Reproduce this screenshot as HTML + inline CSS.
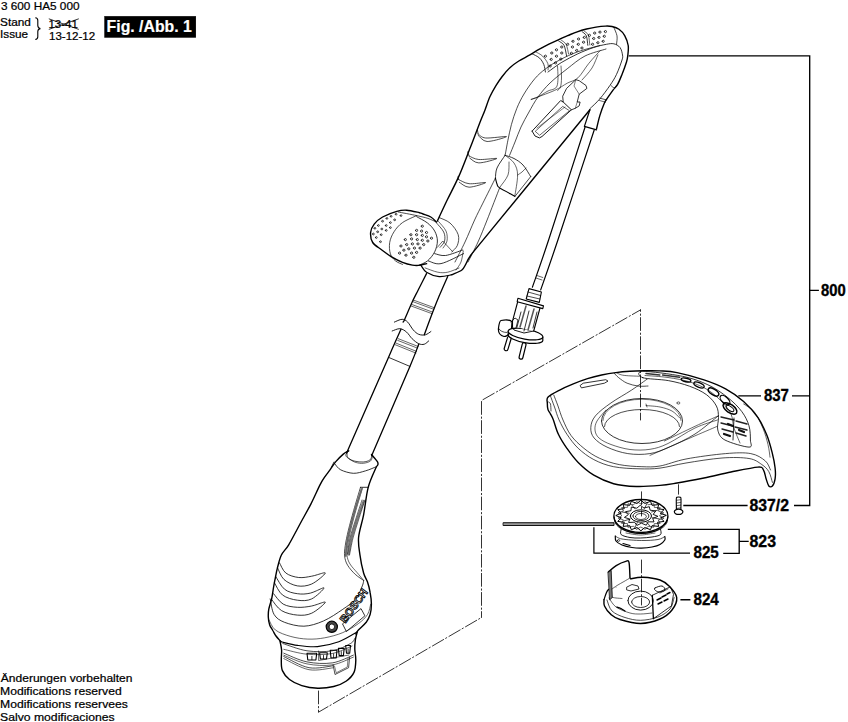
<!DOCTYPE html>
<html><head><meta charset="utf-8">
<style>
html,body{margin:0;padding:0;background:#fff;width:848px;height:722px;overflow:hidden}
svg{position:absolute;left:0;top:0;display:block}
text{font-family:"Liberation Sans",sans-serif}
.lb{font-weight:bold;font-size:16.2px;stroke:#000;stroke-width:0.35px}
.sm{stroke:#000;stroke-width:0.22px}
</style></head><body>
<svg width="848" height="722" viewBox="0 0 848 722">
<g id="txt" fill="#000" class="sm">
<text x="0.9" y="10" font-size="11" textLength="78.6" lengthAdjust="spacingAndGlyphs">3 600 HA5 000</text>
<text x="0" y="26.3" font-size="11" textLength="30.9" lengthAdjust="spacingAndGlyphs">Stand</text>
<text x="0" y="37.5" font-size="11" textLength="28.1" lengthAdjust="spacingAndGlyphs">Issue</text>
<text x="48.5" y="28" font-size="10.5" textLength="29.3" lengthAdjust="spacingAndGlyphs">13-41</text>
<text x="49" y="39.7" font-size="10.5" textLength="46.1" lengthAdjust="spacingAndGlyphs">13-12-12</text>
<rect x="104.4" y="16.2" width="91.5" height="21.4" fill="#000"/>
<text x="106.6" y="32.3" font-size="17" font-weight="bold" fill="#fff" stroke="#fff" stroke-width="0.2" textLength="85.2" lengthAdjust="spacingAndGlyphs">Fig. /Abb. 1</text>
<text x="0.8" y="682.3" font-size="11" textLength="131.7" lengthAdjust="spacingAndGlyphs">Änderungen vorbehalten</text>
<text x="0" y="695.2" font-size="11" textLength="121.7" lengthAdjust="spacingAndGlyphs">Modifications reserved</text>
<text x="0" y="708.2" font-size="11" textLength="127.9" lengthAdjust="spacingAndGlyphs">Modifications reservees</text>
<text x="0" y="720.8" font-size="11" textLength="114.6" lengthAdjust="spacingAndGlyphs">Salvo modificaciones</text>
<text class="lb" x="821" y="296" textLength="24.7" lengthAdjust="spacingAndGlyphs">800</text>
<text class="lb" x="764" y="401" textLength="24.9" lengthAdjust="spacingAndGlyphs">837</text>
<text class="lb" x="749.5" y="510.6" textLength="39.5" lengthAdjust="spacingAndGlyphs">837/2</text>
<text class="lb" x="749.5" y="547" textLength="26.5" lengthAdjust="spacingAndGlyphs">823</text>
<text class="lb" x="693.5" y="558.2" textLength="25.3" lengthAdjust="spacingAndGlyphs">825</text>
<text class="lb" x="693.5" y="604.8" textLength="25.3" lengthAdjust="spacingAndGlyphs">824</text>
</g>
<g id="lines" fill="none" stroke="#000" stroke-width="1.35">
<path d="M628.7 55.8H809.7V505.5H794M809.7 290.4H818.9M792 395.8H809.7M738.3 395.8H761M683.3 505.5H747.6M667.8 529.4H739.2V553.4H723.2M739.2 541.4H748.7M680.4 599.7H690.4" />
<path d="M593.9 527.2V553.2H690" stroke-width="1.2"/>
<path d="M48.8 18.8L78.8 29.4M48.8 29.4L78.8 18.8" stroke-width="0.8"/>
<path d="M35.3 17.8Q37.8 18 37.8 20.5V25.6Q37.8 28.2 40.4 28.6Q37.8 29 37.8 31.6V36.8Q37.8 39.3 35.3 39.5" stroke-width="1.1"/>
</g>
<g stroke="#000" stroke-linejoin="round" stroke-linecap="round">
<path d="M437.4 221.0C439.0 217.5 443.6 207.4 447.2 200.0C450.8 192.6 454.9 185.2 458.8 176.4C462.7 167.6 466.8 156.4 470.4 147.3C473.9 138.2 477.7 128.3 480.1 122.1C482.5 115.9 483.4 114.3 485.0 110.0C486.6 105.7 488.1 100.6 490.0 96.5C491.9 92.4 494.1 88.7 496.1 85.4C498.1 82.1 499.9 79.5 502.2 76.5C504.5 73.5 507.1 70.3 509.9 67.7C512.7 65.1 515.5 63.1 518.8 61.0C522.1 58.9 526.5 56.9 529.9 54.9C533.3 52.9 536.2 51.0 539.4 49.2C542.6 47.4 545.8 45.7 548.9 44.1C552.0 42.5 555.2 41.2 558.3 39.8C561.4 38.4 564.6 36.9 567.7 35.6C570.9 34.3 574.1 32.9 577.2 31.8C580.4 30.7 583.5 29.8 586.6 29.0C589.7 28.2 592.9 27.6 596.0 27.1C599.1 26.6 602.8 26.2 605.5 26.1C608.2 26.0 609.8 26.0 612.0 26.5C614.2 27.0 616.9 27.7 619.0 29.2C621.1 30.7 623.2 32.9 624.7 35.6C626.2 38.3 627.7 42.2 628.2 45.5C628.7 48.8 628.1 52.6 627.8 55.4C627.5 58.1 627.5 58.8 626.5 62.0C625.5 65.2 623.5 70.7 622.0 74.4C620.5 78.1 619.1 81.8 617.6 84.4C616.1 87.0 614.9 87.7 613.2 89.9C611.6 92.1 609.2 95.5 607.7 97.7C606.2 99.9 605.6 100.2 604.3 103.2C603.0 106.2 601.2 111.2 599.9 115.4C598.6 119.7 597.1 126.5 596.6 128.7" stroke-width="1.4" fill="none" />
<path d="M589.9 109.8L584.4 126.4L596.6 129.8" stroke-width="1.2" fill="none" />
<path d="M589.9 109.8C572.3 131.3 504.2 214.2 484.2 238.6C464.2 263.1 473.1 252.2 470.0 256.5C466.9 260.8 467.1 262.1 465.7 264.3C464.3 266.6 464.2 268.3 461.9 270.0C459.6 271.7 453.6 273.9 452.0 274.7" stroke-width="1.4" fill="none" />
<path d="M617.6 84.4C617.0 85.0 615.4 87.5 614.3 87.7C613.2 87.9 611.5 85.9 611.0 85.5" stroke-width="0.7" fill="none" />
<path d="M599.9 98.2L606.5 99.9" stroke-width="0.7" fill="none" />
<path d="M599.5 100.5L605.5 102.2" stroke-width="0.6" fill="none" />
<path d="M548.0 72.0C550.3 70.4 556.8 65.3 561.8 62.3C566.8 59.3 572.5 56.3 577.8 53.8C583.1 51.3 588.9 49.1 593.7 47.5C598.5 45.9 603.0 44.9 606.4 44.3C609.8 43.7 611.5 43.3 613.8 43.8C616.1 44.3 618.5 45.6 620.0 47.5C621.5 49.4 622.2 52.9 622.5 55.0C622.8 57.1 623.0 56.8 622.0 60.0C621.0 63.2 618.5 70.2 616.5 74.4C614.5 78.7 612.7 81.4 609.9 85.5C607.1 89.6 603.2 94.9 599.9 98.8C596.6 102.7 591.6 107.0 589.9 108.7" stroke-width="0.8" fill="none" />
<path d="M532.1 53.8C533.4 54.5 537.7 56.3 539.6 58.1C541.5 59.9 542.8 62.2 543.8 64.5C544.8 66.8 545.1 70.8 545.4 72.0" stroke-width="0.8" fill="none" />
<path d="M535.5 51.8C536.7 52.5 540.6 54.1 542.6 56.1C544.6 58.1 546.9 61.2 547.8 63.5C548.7 65.8 548.0 68.9 548.0 70.0" stroke-width="0.6" fill="none" />
<path d="M558.7 41.1C559.6 41.8 562.7 42.8 564.0 45.3C565.3 47.8 566.2 54.2 566.6 56.0" stroke-width="0.8" fill="none" />
<path d="M561.0 40.0C561.8 40.7 564.7 42.0 566.0 44.3C567.3 46.6 568.2 52.4 568.6 54.0" stroke-width="0.6" fill="none" />
<path d="M582.0 31.6C582.7 32.3 585.3 33.5 586.3 35.8C587.3 38.1 587.5 43.7 587.8 45.3" stroke-width="0.8" fill="none" />
<path d="M584.0 31.0C584.7 31.7 587.3 32.7 588.3 35.0C589.3 37.3 589.5 43.3 589.8 45.0" stroke-width="0.6" fill="none" />
<path d="M613.8 27.3C614.3 28.7 616.5 33.0 617.0 35.8C617.5 38.6 616.6 42.9 616.5 44.3" stroke-width="0.7" fill="none" />
<path d="M600.0 45.4C596.3 46.5 584.7 49.3 578.0 51.7C571.3 54.1 565.4 56.9 560.0 59.8C554.6 62.6 549.8 65.6 545.6 68.8C541.4 72.0 538.4 74.5 534.8 78.7C531.2 82.9 527.0 89.0 524.0 94.0C521.0 99.0 518.9 103.3 516.8 108.4C514.7 113.5 512.9 119.2 511.4 124.6C509.9 130.0 508.9 135.7 507.8 140.8C506.8 145.9 505.6 152.9 505.1 155.3" stroke-width="0.7" fill="none" />
<path d="M606.0 49.0C602.5 50.2 591.5 52.7 585.0 56.0C578.5 59.3 573.0 64.3 567.2 68.8C561.4 73.3 554.9 78.3 550.0 83.0C545.1 87.7 541.5 92.2 538.0 97.0C534.5 101.8 531.8 107.0 529.0 112.0C526.2 117.0 523.3 122.0 521.0 127.0C518.7 132.0 516.9 137.3 515.0 142.0C513.1 146.7 510.5 153.1 509.6 155.3" stroke-width="0.7" fill="none" />
<path d="M495.4 178.2C493.3 182.3 486.4 196.1 482.9 203.1C479.4 210.1 477.6 213.5 474.6 220.0C471.6 226.5 468.3 235.0 465.0 242.0C461.7 249.0 456.7 258.7 455.0 262.0" stroke-width="0.7" fill="none" />
<path d="M499.6 187.9C497.5 193.2 490.7 211.0 487.1 220.0C483.5 229.0 481.2 235.0 478.0 242.0C474.8 249.0 469.7 258.7 468.0 262.0" stroke-width="0.7" fill="none" />
<path d="M531.2 99.4C535.1 97.9 548.6 93.1 554.6 90.4C560.6 87.7 563.3 85.3 567.2 83.2C571.1 81.1 574.4 81.1 578.0 77.8C581.6 74.5 585.1 67.9 588.8 63.4C592.5 58.9 598.1 52.9 600.0 50.8" stroke-width="0.6" fill="none" />
<path d="M597.9 54.9C596.9 57.1 594.6 63.8 592.0 68.0C589.4 72.2 583.7 78.0 582.0 80.0" stroke-width="0.6" fill="none" />
<path d="M557.5 66.0C557.6 68.0 558.1 74.7 558.0 78.0C557.9 81.3 557.7 84.2 557.0 86.0C556.3 87.8 555.5 88.2 554.0 89.0C552.5 89.8 550.7 89.7 548.0 91.0C545.3 92.3 540.8 95.6 538.0 97.0C535.2 98.4 532.3 99.0 531.2 99.4" stroke-width="0.6" fill="none" />
<path d="M561.0 66.0C561.1 68.0 561.6 74.5 561.5 78.0C561.4 81.5 561.2 84.9 560.5 87.0C559.8 89.1 558.0 89.9 557.5 90.5" stroke-width="0.6" fill="none" />
<path d="M532.1 131.1L560.7 100.5L563.2 102.0L571.4 109.8L542.0 136.5L539.4 137.9L535.0 136.0L532.1 131.1" stroke-width="0.9" fill="none" />
<path d="M535.5 131.1L562.7 106.4L569.5 110.7L539.9 135.0Z" stroke-width="0.6" fill="none" />
<path d="M537.0 128.0L565.0 107.0" stroke-width="0.5" fill="none" />
<path d="M563.2 102.0L562.7 96.2L566.6 88.4L575.8 79.7L579.2 80.7L586.0 85.5L586.9 88.4L579.2 94.2L577.2 102.0L580.1 102.0L579.2 105.9L575.3 108.3L571.4 109.8" stroke-width="0.8" fill="none" />
<path d="M577.2 102.0L575.3 108.3" stroke-width="0.5" fill="none" />
<path d="M575.8 79.7L574.0 86.0L579.2 94.2" stroke-width="0.5" fill="none" />
<path d="M478.1 133.9C479.4 134.6 481.0 137.6 485.7 138.0C490.4 138.4 506.3 136.0 506.5 136.6C506.7 137.2 491.8 141.7 487.1 141.5C482.4 141.3 479.6 136.2 478.1 135.2" stroke-width="0.7" fill="none" />
<path d="M477.4 129.7L478.1 133.9" stroke-width="0.7" fill="none" />
<path d="M469.1 156.0C470.7 156.6 474.2 159.1 478.8 159.5C483.4 159.9 496.8 157.9 496.8 158.5C496.8 159.1 483.3 163.0 478.8 162.9C474.3 162.8 471.3 158.9 469.8 158.1" stroke-width="0.7" fill="none" />
<path d="M467.7 151.9L469.1 156.0" stroke-width="0.7" fill="none" />
<path d="M458.7 179.6C460.4 180.3 464.6 183.2 469.1 183.7C473.6 184.2 485.7 182.0 485.7 182.6C485.7 183.2 473.5 187.2 469.1 187.2C464.7 187.1 461.0 183.1 459.4 182.3" stroke-width="0.7" fill="none" />
<path d="M458.0 176.8L458.7 179.6" stroke-width="0.7" fill="none" />
<path d="M505.1 155.3C506.6 155.8 511.0 156.9 514.0 158.5C517.0 160.1 520.2 162.0 523.0 165.0C525.8 168.0 529.4 174.7 530.7 176.6" stroke-width="0.8" fill="none" />
<path d="M495.4 178.2C495.7 179.2 496.3 182.4 497.0 184.0C497.7 185.6 496.6 185.9 499.6 187.9C502.6 189.9 512.3 194.8 514.8 196.2" stroke-width="1.1" fill="none" />
<path d="M505.1 155.3C503.8 157.4 498.6 164.2 497.0 168.0C495.4 171.8 495.7 176.5 495.4 178.2" stroke-width="0.8" fill="none" />
<path d="M505.1 155.3C506.6 156.6 511.9 159.7 514.0 163.0C516.1 166.3 517.5 169.5 517.6 175.0C517.7 180.5 515.3 192.7 514.8 196.2" stroke-width="0.6" fill="none" />
<path d="M509.0 162.0C508.8 164.2 509.5 170.8 508.0 175.0C506.5 179.2 501.3 185.0 500.0 187.0" stroke-width="0.6" fill="none" />
<path d="M517.6 175.0C518.3 174.5 520.6 173.2 522.0 172.0C523.4 170.8 525.3 168.7 526.0 168.0" stroke-width="0.6" fill="none" />
<path d="M530.7 176.6L514.9 196.5" stroke-width="0.7" fill="none" />
<path d="M545.4 56.2m-1.1 0a1.1 1.1 0 1 0 2.2 0a1.1 1.1 0 1 0 -2.2 0" stroke-width="0.75" fill="none" />
<path d="M551.2 59.4m-1.1 0a1.1 1.1 0 1 0 2.2 0a1.1 1.1 0 1 0 -2.2 0" stroke-width="0.75" fill="none" />
<path d="M556.5 56.2m-1.1 0a1.1 1.1 0 1 0 2.2 0a1.1 1.1 0 1 0 -2.2 0" stroke-width="0.75" fill="none" />
<path d="M550.2 66.0m-1.1 0a1.1 1.1 0 1 0 2.2 0a1.1 1.1 0 1 0 -2.2 0" stroke-width="0.75" fill="none" />
<path d="M555.5 62.9m-1.1 0a1.1 1.1 0 1 0 2.2 0a1.1 1.1 0 1 0 -2.2 0" stroke-width="0.75" fill="none" />
<path d="M560.8 59.1m-1.1 0a1.1 1.1 0 1 0 2.2 0a1.1 1.1 0 1 0 -2.2 0" stroke-width="0.75" fill="none" />
<path d="M561.8 53.0m-1.1 0a1.1 1.1 0 1 0 2.2 0a1.1 1.1 0 1 0 -2.2 0" stroke-width="0.75" fill="none" />
<path d="M556.5 49.8m-1.1 0a1.1 1.1 0 1 0 2.2 0a1.1 1.1 0 1 0 -2.2 0" stroke-width="0.75" fill="none" />
<path d="M551.8 53.0m-1.1 0a1.1 1.1 0 1 0 2.2 0a1.1 1.1 0 1 0 -2.2 0" stroke-width="0.75" fill="none" />
<path d="M561.8 47.0m-1.1 0a1.1 1.1 0 1 0 2.2 0a1.1 1.1 0 1 0 -2.2 0" stroke-width="0.75" fill="none" />
<path d="M571.4 53.3m-1.1 0a1.1 1.1 0 1 0 2.2 0a1.1 1.1 0 1 0 -2.2 0" stroke-width="0.75" fill="none" />
<path d="M576.7 50.4m-1.1 0a1.1 1.1 0 1 0 2.2 0a1.1 1.1 0 1 0 -2.2 0" stroke-width="0.75" fill="none" />
<path d="M582.0 48.0m-1.1 0a1.1 1.1 0 1 0 2.2 0a1.1 1.1 0 1 0 -2.2 0" stroke-width="0.75" fill="none" />
<path d="M572.5 47.0m-1.1 0a1.1 1.1 0 1 0 2.2 0a1.1 1.1 0 1 0 -2.2 0" stroke-width="0.75" fill="none" />
<path d="M578.3 44.3m-1.1 0a1.1 1.1 0 1 0 2.2 0a1.1 1.1 0 1 0 -2.2 0" stroke-width="0.75" fill="none" />
<path d="M583.6 42.2m-1.1 0a1.1 1.1 0 1 0 2.2 0a1.1 1.1 0 1 0 -2.2 0" stroke-width="0.75" fill="none" />
<path d="M573.0 41.3m-1.1 0a1.1 1.1 0 1 0 2.2 0a1.1 1.1 0 1 0 -2.2 0" stroke-width="0.75" fill="none" />
<path d="M578.6 39.0m-1.1 0a1.1 1.1 0 1 0 2.2 0a1.1 1.1 0 1 0 -2.2 0" stroke-width="0.75" fill="none" />
<path d="M584.3 37.4m-1.1 0a1.1 1.1 0 1 0 2.2 0a1.1 1.1 0 1 0 -2.2 0" stroke-width="0.75" fill="none" />
<path d="M567.7 44.3m-1.1 0a1.1 1.1 0 1 0 2.2 0a1.1 1.1 0 1 0 -2.2 0" stroke-width="0.75" fill="none" />
<path d="M592.6 44.3m-1.1 0a1.1 1.1 0 1 0 2.2 0a1.1 1.1 0 1 0 -2.2 0" stroke-width="0.75" fill="none" />
<path d="M597.9 42.7m-1.1 0a1.1 1.1 0 1 0 2.2 0a1.1 1.1 0 1 0 -2.2 0" stroke-width="0.75" fill="none" />
<path d="M603.2 41.3m-1.1 0a1.1 1.1 0 1 0 2.2 0a1.1 1.1 0 1 0 -2.2 0" stroke-width="0.75" fill="none" />
<path d="M593.7 38.5m-1.1 0a1.1 1.1 0 1 0 2.2 0a1.1 1.1 0 1 0 -2.2 0" stroke-width="0.75" fill="none" />
<path d="M599.0 37.4m-1.1 0a1.1 1.1 0 1 0 2.2 0a1.1 1.1 0 1 0 -2.2 0" stroke-width="0.75" fill="none" />
<path d="M604.3 36.3m-1.1 0a1.1 1.1 0 1 0 2.2 0a1.1 1.1 0 1 0 -2.2 0" stroke-width="0.75" fill="none" />
<path d="M594.7 33.1m-1.1 0a1.1 1.1 0 1 0 2.2 0a1.1 1.1 0 1 0 -2.2 0" stroke-width="0.75" fill="none" />
<path d="M600.0 32.1m-1.1 0a1.1 1.1 0 1 0 2.2 0a1.1 1.1 0 1 0 -2.2 0" stroke-width="0.75" fill="none" />
<path d="M605.4 31.6m-1.1 0a1.1 1.1 0 1 0 2.2 0a1.1 1.1 0 1 0 -2.2 0" stroke-width="0.75" fill="none" />
<path d="M589.4 35.3m-1.1 0a1.1 1.1 0 1 0 2.2 0a1.1 1.1 0 1 0 -2.2 0" stroke-width="0.75" fill="none" />
<path d="M370.6 232.5C372 226 378 219 390 213.5C400 210 412 210 423 214C432 218 440 226 444 236C446 245 442 254 435 259C428 264 418 266 410 265C398 263 385 256 376 248C372 244 370 238 370.6 232.5Z" stroke-width="0" fill="#fff" stroke="none"/>
<path d="M439.2 217.6C441.0 218.5 446.8 220.2 450.0 223.0C453.2 225.8 457.0 230.9 458.2 234.7C459.4 238.4 458.4 242.7 457.3 245.5C456.2 248.3 452.7 250.8 451.8 251.8" stroke-width="0.7" fill="none" />
<path d="M436.5 223.0C437.7 224.5 442.3 229.0 443.7 232.0C445.1 235.0 445.2 238.4 444.6 241.0C444.0 243.6 440.9 246.2 440.1 247.3" stroke-width="0.7" fill="none" />
<path d="M438.5 221.5C439.8 223.1 444.6 227.8 446.0 231.0C447.4 234.2 447.5 238.2 447.0 241.0C446.5 243.8 443.7 246.8 443.0 248.0" stroke-width="0.6" fill="none" />
<path d="M437.4 247.3L442.8 241.0L452.7 251.8" stroke-width="0.6" fill="none" />
<path d="M436.5 222.1C435.6 221.2 433.1 218.3 430.8 217.0C428.6 215.7 424.9 214.7 423.0 214.0C421.1 213.3 422.1 213.3 419.4 212.7C416.7 212.1 410.5 210.4 406.7 210.2C402.9 210.0 400.8 210.2 396.8 211.3C392.8 212.4 386.4 214.9 382.6 217.0C378.8 219.1 376.2 221.5 374.2 224.1C372.2 226.7 370.9 229.4 370.6 232.5C370.4 235.6 370.9 239.7 372.7 242.5C374.5 245.3 378.1 247.2 381.2 249.5C384.3 251.8 387.6 254.5 391.1 256.6C394.7 258.7 398.9 260.9 402.5 262.3C406.1 263.7 409.7 264.6 412.4 265.1C415.1 265.6 416.1 265.6 418.5 265.4C420.9 265.1 425.2 263.9 426.6 263.6" stroke-width="1.4" fill="none" />
<path d="M416.7 216.7C418.5 217.8 424.5 220.6 427.5 223.0C430.5 225.4 433.1 228.1 434.7 231.1C436.3 234.1 437.4 237.6 437.4 241.0C437.4 244.4 436.3 248.5 434.7 251.8C433.1 255.1 430.2 258.6 427.5 260.9C424.8 263.2 420.0 264.6 418.5 265.4" stroke-width="0.8" fill="none" />
<path d="M398.2 212.0C401.3 212.6 411.7 214.5 416.6 215.6C421.6 216.7 424.6 217.3 427.9 218.4C431.2 219.5 435.1 221.5 436.5 222.1" stroke-width="0.7" fill="none" />
<path d="M416.6 215.6C414.2 216.8 406.3 219.9 402.5 222.6C398.7 225.3 396.1 228.5 394.0 231.8C391.9 235.1 390.3 238.8 389.7 242.5C389.1 246.2 389.4 250.8 390.4 253.8C391.3 256.9 393.4 259.0 395.4 260.8C397.4 262.6 401.3 263.8 402.5 264.4" stroke-width="0.7" fill="none" />
<path d="M374.9 228.3m-0.9 0a0.9 0.9 0 1 0 1.8 0a0.9 0.9 0 1 0 -1.8 0" stroke-width="0.7" fill="none" />
<path d="M378.4 225.5m-0.9 0a0.9 0.9 0 1 0 1.8 0a0.9 0.9 0 1 0 -1.8 0" stroke-width="0.7" fill="none" />
<path d="M382.6 221.2m-0.9 0a0.9 0.9 0 1 0 1.8 0a0.9 0.9 0 1 0 -1.8 0" stroke-width="0.7" fill="none" />
<path d="M386.9 218.4m-0.9 0a0.9 0.9 0 1 0 1.8 0a0.9 0.9 0 1 0 -1.8 0" stroke-width="0.7" fill="none" />
<path d="M391.1 216.3m-0.9 0a0.9 0.9 0 1 0 1.8 0a0.9 0.9 0 1 0 -1.8 0" stroke-width="0.7" fill="none" />
<path d="M396.1 214.2m-0.9 0a0.9 0.9 0 1 0 1.8 0a0.9 0.9 0 1 0 -1.8 0" stroke-width="0.7" fill="none" />
<path d="M401.0 215.6m-0.9 0a0.9 0.9 0 1 0 1.8 0a0.9 0.9 0 1 0 -1.8 0" stroke-width="0.7" fill="none" />
<path d="M373.4 234.0m-0.9 0a0.9 0.9 0 1 0 1.8 0a0.9 0.9 0 1 0 -1.8 0" stroke-width="0.7" fill="none" />
<path d="M377.7 231.8m-0.9 0a0.9 0.9 0 1 0 1.8 0a0.9 0.9 0 1 0 -1.8 0" stroke-width="0.7" fill="none" />
<path d="M381.9 229.0m-0.9 0a0.9 0.9 0 1 0 1.8 0a0.9 0.9 0 1 0 -1.8 0" stroke-width="0.7" fill="none" />
<path d="M386.2 225.5m-0.9 0a0.9 0.9 0 1 0 1.8 0a0.9 0.9 0 1 0 -1.8 0" stroke-width="0.7" fill="none" />
<path d="M390.4 222.6m-0.9 0a0.9 0.9 0 1 0 1.8 0a0.9 0.9 0 1 0 -1.8 0" stroke-width="0.7" fill="none" />
<path d="M394.7 219.8m-0.9 0a0.9 0.9 0 1 0 1.8 0a0.9 0.9 0 1 0 -1.8 0" stroke-width="0.7" fill="none" />
<path d="M376.3 237.5m-0.9 0a0.9 0.9 0 1 0 1.8 0a0.9 0.9 0 1 0 -1.8 0" stroke-width="0.7" fill="none" />
<path d="M381.2 234.7m-0.9 0a0.9 0.9 0 1 0 1.8 0a0.9 0.9 0 1 0 -1.8 0" stroke-width="0.7" fill="none" />
<path d="M386.2 230.4m-0.9 0a0.9 0.9 0 1 0 1.8 0a0.9 0.9 0 1 0 -1.8 0" stroke-width="0.7" fill="none" />
<path d="M390.4 227.6m-0.9 0a0.9 0.9 0 1 0 1.8 0a0.9 0.9 0 1 0 -1.8 0" stroke-width="0.7" fill="none" />
<path d="M380.5 241.7m-0.9 0a0.9 0.9 0 1 0 1.8 0a0.9 0.9 0 1 0 -1.8 0" stroke-width="0.7" fill="none" />
<path d="M422.3 226.2m-1.1 0a1.1 1.1 0 1 0 2.2 0a1.1 1.1 0 1 0 -2.2 0" stroke-width="0.75" fill="none" />
<path d="M416.6 230.4m-1.1 0a1.1 1.1 0 1 0 2.2 0a1.1 1.1 0 1 0 -2.2 0" stroke-width="0.75" fill="none" />
<path d="M421.6 231.1m-1.1 0a1.1 1.1 0 1 0 2.2 0a1.1 1.1 0 1 0 -2.2 0" stroke-width="0.75" fill="none" />
<path d="M426.5 232.5m-1.1 0a1.1 1.1 0 1 0 2.2 0a1.1 1.1 0 1 0 -2.2 0" stroke-width="0.75" fill="none" />
<path d="M410.9 234.7m-1.1 0a1.1 1.1 0 1 0 2.2 0a1.1 1.1 0 1 0 -2.2 0" stroke-width="0.75" fill="none" />
<path d="M416.6 234.7m-1.1 0a1.1 1.1 0 1 0 2.2 0a1.1 1.1 0 1 0 -2.2 0" stroke-width="0.75" fill="none" />
<path d="M422.3 235.4m-1.1 0a1.1 1.1 0 1 0 2.2 0a1.1 1.1 0 1 0 -2.2 0" stroke-width="0.75" fill="none" />
<path d="M426.5 236.8m-1.1 0a1.1 1.1 0 1 0 2.2 0a1.1 1.1 0 1 0 -2.2 0" stroke-width="0.75" fill="none" />
<path d="M431.5 238.2m-1.1 0a1.1 1.1 0 1 0 2.2 0a1.1 1.1 0 1 0 -2.2 0" stroke-width="0.75" fill="none" />
<path d="M405.3 239.6m-1.1 0a1.1 1.1 0 1 0 2.2 0a1.1 1.1 0 1 0 -2.2 0" stroke-width="0.75" fill="none" />
<path d="M411.6 238.9m-1.1 0a1.1 1.1 0 1 0 2.2 0a1.1 1.1 0 1 0 -2.2 0" stroke-width="0.75" fill="none" />
<path d="M417.3 239.6m-1.1 0a1.1 1.1 0 1 0 2.2 0a1.1 1.1 0 1 0 -2.2 0" stroke-width="0.75" fill="none" />
<path d="M422.3 240.3m-1.1 0a1.1 1.1 0 1 0 2.2 0a1.1 1.1 0 1 0 -2.2 0" stroke-width="0.75" fill="none" />
<path d="M427.9 241.0m-1.1 0a1.1 1.1 0 1 0 2.2 0a1.1 1.1 0 1 0 -2.2 0" stroke-width="0.75" fill="none" />
<path d="M401.0 246.0m-1.1 0a1.1 1.1 0 1 0 2.2 0a1.1 1.1 0 1 0 -2.2 0" stroke-width="0.75" fill="none" />
<path d="M406.7 244.6m-1.1 0a1.1 1.1 0 1 0 2.2 0a1.1 1.1 0 1 0 -2.2 0" stroke-width="0.75" fill="none" />
<path d="M412.4 243.9m-1.1 0a1.1 1.1 0 1 0 2.2 0a1.1 1.1 0 1 0 -2.2 0" stroke-width="0.75" fill="none" />
<path d="M418.0 243.9m-1.1 0a1.1 1.1 0 1 0 2.2 0a1.1 1.1 0 1 0 -2.2 0" stroke-width="0.75" fill="none" />
<path d="M423.7 244.6m-1.1 0a1.1 1.1 0 1 0 2.2 0a1.1 1.1 0 1 0 -2.2 0" stroke-width="0.75" fill="none" />
<path d="M403.9 250.2m-1.1 0a1.1 1.1 0 1 0 2.2 0a1.1 1.1 0 1 0 -2.2 0" stroke-width="0.75" fill="none" />
<path d="M408.8 248.8m-1.1 0a1.1 1.1 0 1 0 2.2 0a1.1 1.1 0 1 0 -2.2 0" stroke-width="0.75" fill="none" />
<path d="M414.5 248.1m-1.1 0a1.1 1.1 0 1 0 2.2 0a1.1 1.1 0 1 0 -2.2 0" stroke-width="0.75" fill="none" />
<path d="M420.1 248.1m-1.1 0a1.1 1.1 0 1 0 2.2 0a1.1 1.1 0 1 0 -2.2 0" stroke-width="0.75" fill="none" />
<path d="M399.6 253.1m-1.1 0a1.1 1.1 0 1 0 2.2 0a1.1 1.1 0 1 0 -2.2 0" stroke-width="0.75" fill="none" />
<path d="M406.0 255.2m-1.1 0a1.1 1.1 0 1 0 2.2 0a1.1 1.1 0 1 0 -2.2 0" stroke-width="0.75" fill="none" />
<path d="M411.6 253.1m-1.1 0a1.1 1.1 0 1 0 2.2 0a1.1 1.1 0 1 0 -2.2 0" stroke-width="0.75" fill="none" />
<path d="M416.6 252.4m-1.1 0a1.1 1.1 0 1 0 2.2 0a1.1 1.1 0 1 0 -2.2 0" stroke-width="0.75" fill="none" />
<path d="M413.8 257.3m-1.1 0a1.1 1.1 0 1 0 2.2 0a1.1 1.1 0 1 0 -2.2 0" stroke-width="0.75" fill="none" />
<path d="M434.7 253.6C436.5 253.9 440.8 256.1 445.5 255.5C450.2 254.9 459.8 250.9 462.7 250.0" stroke-width="0.8" fill="none" />
<path d="M428.4 260.9C430.5 261.3 435.1 264.8 441.0 263.6C446.9 262.4 459.8 255.3 463.6 253.6" stroke-width="0.8" fill="none" />
<path d="M420.8 265.1C421.8 266.3 423.4 270.3 426.5 272.2C429.6 274.1 434.9 276.2 439.2 276.6C443.4 277.0 449.9 275.0 452.0 274.7" stroke-width="1.2" fill="none" />
<path d="M425.1 267.9C427.2 268.6 434.0 271.5 437.8 272.2C441.6 272.9 444.2 272.9 447.7 272.2C451.2 271.5 457.1 268.7 459.0 268.0" stroke-width="0.6" fill="none" />
<path d="M463.3 250.9C462.9 252.8 462.2 258.8 461.0 262.0C459.8 265.2 456.8 268.7 456.0 270.0" stroke-width="0.6" fill="none" />
<path d="M426.5 273.6C425.1 276.3 420.6 285.2 418.2 290.0C415.8 294.8 414.4 297.2 412.1 302.2C409.8 307.2 405.9 316.6 404.4 319.9C402.9 323.2 403.2 321.6 403.0 322.0" stroke-width="1.3" fill="none" />
<path d="M447.7 276.4C446.4 279.4 442.1 289.1 439.8 294.4C437.6 299.7 436.8 301.6 434.2 308.3C431.6 315.0 425.9 330.4 424.3 334.8" stroke-width="1.3" fill="none" />
<path d="M401.0 329.3C399.0 333.8 398.0 335.8 388.9 356.4C379.8 377.0 353.7 436.8 346.6 452.9" stroke-width="1.3" fill="none" />
<path d="M418.7 344.2C417.2 347.9 417.8 347.8 409.9 366.4C402.0 385.0 378.0 440.8 371.6 455.7" stroke-width="1.3" fill="none" />
<path d="M394.4 322.1C395.7 321.6 399.9 319.3 402.1 319.3C404.3 319.3 405.9 320.3 407.7 322.1C409.5 323.9 411.4 327.9 413.2 329.9C415.0 331.9 416.7 333.5 418.7 334.3C420.7 335.1 423.4 335.3 425.4 334.8C427.4 334.3 430.0 332.1 430.9 331.5" stroke-width="0.9" fill="none" />
<path d="M392.2 331.0C393.5 330.6 397.5 328.5 399.9 328.7C402.3 328.9 404.6 330.4 406.6 332.1C408.6 333.8 410.1 336.8 412.1 338.7C414.1 340.6 416.7 342.8 418.7 343.7C420.7 344.6 422.6 344.7 424.3 344.2C426.0 343.7 428.0 341.4 428.7 340.9" stroke-width="0.9" fill="none" />
<path d="M413.2 300.0L434.2 307.7" stroke-width="0.6" fill="none" />
<path d="M412.7 301.6L433.7 309.3" stroke-width="0.6" fill="none" />
<path d="M411.6 304.4L432.6 312.1" stroke-width="0.6" fill="none" />
<path d="M411.1 306.0L432.1 313.7" stroke-width="0.6" fill="none" />
<path d="M398.3 338.7L418.2 346.5" stroke-width="0.6" fill="none" />
<path d="M397.7 340.4L417.6 348.2" stroke-width="0.6" fill="none" />
<path d="M396.0 343.1L416.5 351.4" stroke-width="0.6" fill="none" />
<path d="M395.4 344.8L415.9 353.1" stroke-width="0.6" fill="none" />
<path d="M388.9 357.5L409.9 366.4" stroke-width="0.8" fill="none" />
<path d="M348.7 450.8C347.8 451.4 345.4 452.3 343.3 454.1C341.2 455.9 338.0 459.0 335.8 461.6C333.6 464.2 331.8 467.4 330.0 469.9C328.2 472.4 326.7 474.1 325.0 476.6C323.3 479.1 322.3 480.4 320.0 484.9C317.7 489.4 314.4 497.1 311.1 503.6C307.8 510.1 303.7 517.1 300.0 524.0C296.3 530.9 291.8 539.6 288.7 544.8C285.6 550.0 283.3 551.2 281.4 555.0C279.5 558.8 278.5 563.9 277.5 567.6C276.5 571.3 276.1 573.8 275.5 577.0C274.9 580.2 274.2 583.4 273.6 587.0C273.0 590.6 272.5 594.9 271.7 598.6C270.9 602.3 269.4 606.1 268.8 609.2C268.2 612.3 268.2 614.4 268.3 617.0C268.4 619.6 268.9 622.8 269.7 625.0C270.4 627.2 271.8 628.7 272.8 630.5C273.9 632.3 274.6 634.1 276.0 636.0C277.4 637.9 280.2 640.8 281.0 641.8" stroke-width="1.4" fill="none" />
<path d="M281.0 641.8C283.8 642.4 291.4 644.6 297.5 645.4C303.6 646.2 310.6 647.2 317.5 646.6C324.4 646.0 332.3 644.2 338.8 641.8C345.3 639.4 353.5 634.0 356.4 632.4" stroke-width="1.1" fill="none" />
<path d="M371.5 454.5C372.5 455.7 376.3 459.9 377.4 461.6C378.4 463.3 378.1 463.8 377.8 464.9C377.5 466.0 377.3 464.6 375.7 468.3C374.1 472.1 370.2 479.6 368.2 487.4C366.2 495.1 365.2 506.5 363.6 514.8C362.0 523.1 359.2 530.6 358.6 537.3C358.0 543.9 359.1 548.8 359.9 554.7C360.7 560.7 362.3 568.4 363.6 573.0C364.9 577.6 366.4 578.9 367.5 582.1C368.6 585.3 369.5 588.7 370.1 592.4C370.8 596.1 371.4 600.4 371.4 604.1C371.4 607.8 371.0 611.5 370.1 614.5C369.2 617.5 368.1 619.7 366.2 622.3C364.2 624.9 360.1 628.1 358.4 630.0C356.7 631.9 356.2 633.2 355.8 633.9" stroke-width="1.4" fill="none" />
<path d="M348.3 451.2C347.9 451.8 345.8 453.8 345.8 455.0C345.8 456.2 346.8 457.3 348.3 458.3C349.8 459.3 352.4 460.6 354.9 461.2C357.4 461.8 360.7 462.2 363.2 462.0C365.7 461.8 368.4 461.1 369.9 460.0C371.4 458.9 371.6 456.2 372.0 455.4" stroke-width="0.7" fill="none" />
<path d="M347.3 452.5C347.3 453.1 346.8 454.8 347.2 456.0C347.6 457.2 348.5 458.4 350.0 459.5C351.5 460.6 353.8 461.9 356.0 462.5C358.2 463.1 360.8 463.6 363.2 463.3C365.6 463.1 368.9 462.2 370.5 461.0C372.1 459.8 372.2 456.8 372.5 456.0" stroke-width="0.6" fill="none" />
<path d="M335.0 464.1C336.0 465.1 337.8 468.4 340.8 469.9C343.9 471.4 349.2 473.1 353.3 473.3C357.4 473.5 361.8 471.9 365.7 470.8C369.6 469.7 374.7 467.3 376.5 466.6" stroke-width="0.8" fill="none" />
<path d="M334.0 462.0L331.5 467.0" stroke-width="0.8" fill="none" />
<path d="M360.5 487.3L368.1 487.3" stroke-width="0.8" fill="none" />
<path d="M360.5 487.3C359.4 491.1 355.7 503.2 353.7 510.4C351.7 517.5 349.8 524.4 348.4 530.2C347.0 536.0 345.9 541.1 345.3 545.4C344.7 549.7 344.2 552.7 344.6 556.0C345.0 559.3 345.8 562.2 347.6 565.2C349.4 568.2 352.5 571.8 355.2 574.3C357.9 576.8 362.2 579.4 363.6 580.4" stroke-width="0.7" fill="none" />
<path d="M362.5 488.0C361.4 491.8 357.8 503.5 355.8 510.6C353.8 517.7 352.0 524.6 350.6 530.4C349.2 536.2 348.2 541.4 347.6 545.6C347.0 549.8 346.6 552.4 347.0 555.5C347.4 558.6 348.3 561.2 350.0 564.0C351.7 566.8 354.7 569.8 357.0 572.5C359.3 575.2 362.5 579.1 363.6 580.4" stroke-width="0.6" fill="none" />
<path d="M361.6 489.0C360.5 492.6 356.8 503.6 354.8 510.5C352.8 517.4 350.9 524.5 349.5 530.3C348.1 536.1 347.1 541.2 346.5 545.5C345.9 549.8 345.9 554.2 345.8 556.0" stroke-width="1.8" fill="none" stroke="#666"/>
<path d="M363.6 501.0C362.5 504.2 359.0 513.8 357.0 520.0C355.0 526.2 352.9 532.2 351.5 538.0C350.1 543.8 348.9 551.8 348.4 554.5" stroke-width="2.2" fill="none" stroke="#777"/>
<path d="M365.0 500.0C363.9 503.3 360.5 513.7 358.5 520.0C356.5 526.3 354.5 532.2 353.0 538.0C351.5 543.8 350.1 552.2 349.5 555.0" stroke-width="0.6" fill="none" />
<path d="M362.0 500.0C360.9 503.3 357.5 513.7 355.5 520.0C353.5 526.3 351.3 532.3 350.0 538.0C348.7 543.7 347.9 551.3 347.5 554.0" stroke-width="0.6" fill="none" />
<path d="M279.5 562.8C280.6 564.5 282.6 570.5 285.8 573.0C289.0 575.5 294.4 577.0 298.7 577.5C303.0 578.0 307.3 577.0 311.7 576.2C316.1 575.5 325.3 571.7 325.3 573.0C325.3 574.3 316.4 581.9 311.7 584.0C307.0 586.1 302.0 586.6 297.4 585.9C292.8 585.1 287.3 582.5 284.0 579.5C280.7 576.5 278.6 569.6 277.5 567.6" stroke-width="0.8" fill="none" />
<path d="M275.6 576.3C277.1 578.4 280.9 586.3 284.5 589.2C288.1 592.1 293.1 593.1 297.4 593.7C301.7 594.4 306.0 594.1 310.4 593.1C314.8 592.1 323.8 586.9 324.0 587.9C324.2 588.9 316.1 596.8 311.7 598.9C307.3 601.0 302.3 600.9 297.4 600.2C292.5 599.6 286.3 597.9 282.5 595.0C278.7 592.1 275.9 585.0 274.6 583.0" stroke-width="0.8" fill="none" />
<path d="M273.6 593.7C275.2 595.4 279.2 601.8 283.2 604.1C287.2 606.4 292.6 607.0 297.4 607.3C302.1 607.6 307.0 606.9 311.7 606.0C316.4 605.1 325.3 601.0 325.3 602.2C325.3 603.4 316.4 611.1 311.7 613.2C307.0 615.4 302.4 615.5 297.4 615.1C292.4 614.7 285.8 613.2 281.5 610.6C277.2 608.0 273.3 601.4 271.7 599.5" stroke-width="0.8" fill="none" />
<path d="M270.2 598.9C270.9 601.5 271.7 610.6 274.1 614.5C276.5 618.4 279.5 620.3 284.5 622.3C289.5 624.2 297.4 626.4 303.9 626.2C310.4 626.0 316.9 623.8 323.4 621.0C329.9 618.2 337.4 613.0 342.8 609.3C348.2 605.6 352.6 602.8 355.8 598.9C359.1 595.0 361.0 588.9 362.3 585.9C363.6 582.9 363.4 581.6 363.6 580.8" stroke-width="0.8" fill="none" />
<path d="M268.9 619.7C270.0 621.4 271.7 627.2 275.4 630.0C279.1 632.8 285.5 635.0 290.9 636.5C296.3 638.0 302.2 638.9 307.8 639.1C313.4 639.3 318.9 638.9 324.7 637.8C330.5 636.7 337.2 635.0 342.8 632.6C348.4 630.2 354.3 626.6 358.4 623.6C362.5 620.6 365.4 617.8 367.5 614.5C369.6 611.2 370.2 605.8 370.7 604.1" stroke-width="0.6" fill="none" />
<path d="M0 0" stroke-width="0.1" fill="none" />
<text x="0" y="0" transform="translate(353.6 605.6) rotate(-54)" text-anchor="middle" font-size="11" font-weight="bold" fill="#fff" stroke="#000" stroke-width="0.9" textLength="39" lengthAdjust="spacingAndGlyphs" dominant-baseline="central">BOSCH</text>
<path d="M342.8 623.6L361.0 608.6L364.9 615.8L346.7 631.3Z" stroke-width="0.8" fill="none" />
<path d="M331.8 626.8m-5.6 0a5.6 5.6 0 1 0 11.2 0a5.6 5.6 0 1 0 -11.2 0" stroke-width="1.2" fill="#444" />
<path d="M331.8 626.8m-2.8 0a2.8 2.8 0 1 0 5.6 0a2.8 2.8 0 1 0 -5.6 0" stroke-width="0.8" fill="#fff" />
<path d="M279.9 640.6C280.2 642.2 281.4 646.8 281.6 650.0C281.8 653.2 281.2 656.6 281.3 660.0C281.4 663.4 281.0 667.4 282.4 670.6C283.8 673.9 286.3 677.0 289.5 679.5C292.7 682.0 297.1 684.1 301.8 685.6C306.5 687.1 312.5 688.1 317.8 688.3C323.1 688.4 329.0 687.7 333.7 686.5C338.4 685.3 342.6 683.6 346.0 681.2C349.4 678.9 352.4 675.9 354.0 672.4C355.6 668.9 355.7 663.9 355.8 660.0C355.9 656.1 354.9 652.7 354.8 649.3C354.7 645.9 355.0 642.6 355.4 639.7C355.8 636.8 357.0 633.1 357.3 631.8" stroke-width="1.4" fill="none" />
<path d="M282.8 643.5C286.8 644.7 298.8 649.6 307.0 650.8C315.2 652.0 324.9 652.0 332.2 650.8C339.4 649.6 346.7 645.6 350.5 643.5C354.3 641.4 354.2 638.9 355.0 638.0" stroke-width="0.7" fill="none" />
<path d="M283.8 649.3C287.7 650.1 298.9 653.5 307.0 654.2C315.1 654.9 324.7 654.9 332.2 653.5C339.7 652.1 348.7 647.2 352.0 646.0" stroke-width="0.6" fill="none" />
<path d="M283.8 653.2C287.7 654.7 298.9 660.3 307.0 661.9C315.1 663.5 324.5 664.0 332.2 662.9C339.9 661.8 349.9 656.4 353.4 655.1" stroke-width="0.7" fill="none" />
<path d="M283.8 655.2C287.7 656.7 298.9 662.3 307.0 663.9C315.1 665.5 324.5 666.0 332.2 664.9C339.9 663.8 349.9 658.4 353.4 657.1" stroke-width="0.6" fill="none" />
<path d="M283.8 656.6C288.0 658.5 300.8 666.2 309.0 667.7C317.2 669.2 329.1 666.1 333.1 665.8" stroke-width="0.7" fill="none" />
<path d="M283.8 658.6C288.0 660.5 300.8 668.2 309.0 669.7C317.2 671.2 329.1 668.1 333.1 667.8" stroke-width="0.6" fill="none" />
<path d="M333.1 664.8L335.0 674.5L348.6 667.7L349.6 657.1" stroke-width="0.7" fill="none" />
<path d="M334.5 666.0L336.2 672.8L347.3 667.0L348.0 658.0" stroke-width="0.5" fill="none" />
<path d="M318.6 651.0L318.6 660.5L349.0 655.0" stroke-width="0.6" fill="none" />
<path d="M307.0 653.2h9.7l-0.8 6.8h-8.1Z" stroke-width="1.1" fill="none" />
<path d="M311.9 656.3v3.4" stroke-width="0.8" fill="none" />
<path d="M319.6 652.7h7.7l-0.8 6.3h-6.1Z" stroke-width="1.1" fill="none" />
<path d="M323.5 655.5v3.1" stroke-width="0.8" fill="none" />
<path d="M330.2 650.3h6.8l-0.8 7.7h-5.2Z" stroke-width="1.1" fill="none" />
<path d="M333.6 653.8v3.9" stroke-width="0.8" fill="none" />
<path d="M338.4 648.4h5.8l-0.8 7.2h-4.2Z" stroke-width="1.1" fill="none" />
<path d="M341.3 651.6v3.6" stroke-width="0.8" fill="none" />
<path d="M345.7 645.5h4.8l-0.8 7.7h-3.2Z" stroke-width="1.1" fill="none" />
<path d="M348.1 649.0v3.9" stroke-width="0.8" fill="none" />
<path d="M585.0 127.2C578.9 146.0 557.4 213.3 548.6 240.0C539.8 266.7 535.1 279.3 532.4 287.2" stroke-width="1.2" fill="none" />
<path d="M594.2 130.0C588.2 148.3 566.8 213.3 557.9 240.0C549.0 266.6 543.6 281.6 540.7 289.9" stroke-width="1.2" fill="none" />
<path d="M536.6 275.4L542.8 277.5" stroke-width="0.6" fill="none" />
<path d="M535.9 278.0L542.0 280.0" stroke-width="0.6" fill="none" />
<path d="M506.1 348.8L509.3 338.2" stroke-width="5.0" fill="none" />
<path d="M506.1 348.8L509.3 338.2" stroke-width="2.6" fill="none" stroke="#fff"/>
<path d="M521 357.3L524.1 344.6" stroke-width="5.0" fill="none" />
<path d="M521 357.3L524.1 344.6" stroke-width="2.6" fill="none" stroke="#fff"/>
<path d="M501 320.5C506 319.5 511 320 512 322L511.5 329C510 333 507 336.5 504 336.5C500 335.5 498 332 498.5 328C499 324 499.5 321 501 320.5Z" stroke-width="1.2" fill="#fff" />
<path d="M498.7 328.5C500 331 503 332.5 507 332.5" stroke-width="0.7" fill="none" />
<path d="M508.2 334.5a17.3 5 10 0 0 34.6 6.1v-3.6" stroke-width="1.2" fill="#fff" />
<path d="M508.2 331v3.5" stroke-width="1.2" fill="none" />
<path d="M508.2 331a17.3 5 10 1 1 34.6 6.1a17.3 5 10 1 1 -34.6 -6.1Z" stroke-width="1.2" fill="#fff" />
<path d="M517.9 300.5L543.5 306.5L534 331.5L512.5 326Z" stroke-width="0" fill="#fff" stroke="none"/>
<path d="M517.9 301.0L512.5 321.2L512.5 327.0" stroke-width="1.1" fill="none" />
<path d="M540.0 308.0L533.7 331.0" stroke-width="1.1" fill="none" />
<path d="M521 312l-4 15M529 311l-5 20M537 312l-4 16" stroke-width="0.8" fill="none" />
<path d="M526 306l-6 21M534 309l-6 21" stroke-width="1.5" fill="none" stroke="#555"/>
<path d="M511.0 322.0L515.0 318.0L518.0 320.0L516.0 328.0" stroke-width="0.8" fill="none" />
<path d="M512.5 327.0L514.0 330.0L524.0 333.0L533.7 331.0" stroke-width="0.9" fill="none" />
<path d="M529.0 288.6L541.4 292.0L539.3 302.4L526.2 299.0Z" stroke-width="1.1" fill="#fff" />
<path d="M528.0 292.0L540.5 295.5" stroke-width="0.7" fill="none" />
<path d="M527.0 296.0L539.8 299.0" stroke-width="0.7" fill="none" />
<path d="M517.9 298.3L543.5 305.9L542.8 308.6L517.2 301.7Z" stroke-width="1.1" fill="#fff" />
<path d="M548.1 397.0C550.1 394.9 555.0 392.5 559.2 390.3C563.4 388.1 568.6 385.8 573.3 383.9C578.0 382.0 582.8 380.2 587.5 378.7C592.2 377.2 596.9 376.0 601.6 375.0C606.3 374.0 611.1 373.2 615.8 372.6C620.5 372.0 625.2 371.6 629.9 371.3C634.6 371.0 639.0 370.9 644.0 370.8C649.0 370.7 654.5 370.6 660.0 370.9C665.5 371.2 669.7 371.1 677.0 372.6C684.3 374.1 695.9 377.1 704.0 379.8C712.1 382.5 719.0 385.2 725.6 388.8C732.2 392.4 738.2 396.6 743.6 401.4C749.0 406.2 754.1 411.9 758.0 417.6C761.9 423.3 764.6 429.6 767.0 435.6C769.4 441.6 771.0 448.2 772.4 453.6C773.8 459.0 774.6 463.8 775.1 468.0C775.6 472.2 775.6 475.8 775.1 478.8C774.6 481.8 773.5 484.8 772.4 486.0C771.3 487.2 769.8 487.2 768.8 486.0C767.8 484.8 767.0 481.5 766.1 478.8C765.2 476.1 764.8 471.8 763.4 469.8C762.0 467.9 763.4 466.7 758.0 467.1C752.6 467.5 740.0 470.2 731.0 472.0C722.0 473.8 713.0 476.2 704.0 478.0C695.0 479.8 684.3 481.8 677.0 483.0C669.7 484.2 666.8 484.8 660.0 485.4C653.2 486.0 643.9 486.8 636.2 486.5C628.5 486.2 620.7 485.6 613.6 483.7C606.5 481.8 599.7 478.7 593.8 475.2C587.9 471.7 582.7 467.0 578.2 462.5C573.7 458.0 570.2 453.0 566.9 448.3C563.6 443.6 560.6 438.9 558.4 434.2C556.1 429.5 554.7 423.4 553.4 420.0C552.1 416.6 551.3 415.5 550.4 413.8C549.5 412.1 548.5 411.5 548.0 409.6C547.5 407.8 547.3 404.8 547.3 402.7C547.3 400.6 546.1 399.1 548.1 397.0Z" stroke-width="1.4" fill="#fff" />
<path d="M550.4 395.8C551.1 397.7 553.0 403.0 554.5 407.0C556.0 411.0 557.0 415.5 559.1 420.0C561.2 424.5 563.7 429.5 566.9 434.2C570.1 438.9 573.7 444.1 578.2 448.3C582.7 452.5 587.9 456.5 593.8 459.6C599.7 462.7 606.1 465.2 613.6 466.7C621.1 468.2 631.3 468.6 639.0 468.8C646.7 469.0 652.2 469.1 660.0 468.1C667.8 467.1 675.7 464.7 686.0 463.0C696.3 461.3 711.5 458.8 722.0 458.0C732.5 457.2 742.4 457.4 749.0 458.5C755.6 459.6 758.3 462.2 761.6 464.4C764.9 466.6 767.0 468.6 768.8 471.6C770.6 474.6 771.8 480.6 772.4 482.4" stroke-width="0.7" fill="none" />
<path d="M553.8 395.1C554.5 396.9 556.5 401.9 558.0 406.0C559.5 410.1 560.8 415.1 563.0 420.0C565.2 424.9 567.6 430.9 571.1 435.6C574.6 440.3 579.2 444.5 583.9 448.3C588.6 452.1 593.5 455.5 599.4 458.2C605.3 460.9 612.1 463.2 619.2 464.6C626.3 466.0 635.1 466.5 641.9 466.7C648.7 466.9 652.6 467.3 660.0 466.0C667.4 464.7 675.1 461.1 686.0 459.0C696.9 456.9 714.8 454.5 725.6 453.6C736.4 452.7 744.2 452.4 750.8 453.6C757.4 454.8 761.9 458.1 765.2 460.8C768.5 463.5 769.6 468.5 770.5 470.0" stroke-width="0.7" fill="none" />
<path d="M743.6 404.0C745.4 405.3 751.2 407.9 754.4 412.0C757.6 416.1 760.7 423.0 763.0 428.4C765.3 433.8 766.8 439.8 768.0 444.6C769.2 449.4 769.7 455.1 770.0 457.2" stroke-width="0.6" fill="none" />
<path d="M548.5 402.0C548.8 402.3 550.1 402.5 550.5 404.0C550.9 405.5 550.9 409.8 551.0 411.0" stroke-width="0.7" fill="none" />
<path d="M580.4 385.3L583.2 383.2L605.8 379.7L608.0 381.1L604.4 383.2L581.8 387.8Z" stroke-width="0.8" fill="none" />
<path d="M614.3 373.3C615.0 374.0 616.5 376.0 618.6 377.6C620.7 379.2 623.8 381.8 627.1 383.2C630.4 384.6 634.9 385.6 638.4 386.1C641.9 386.6 646.4 386.0 648.0 386.0" stroke-width="0.7" fill="none" />
<path d="M617.0 373.0C618.2 373.4 619.5 374.8 624.2 375.4C628.9 376.0 638.2 376.1 645.0 376.5C651.8 376.9 661.7 377.4 665.0 377.6" stroke-width="0.6" fill="none" />
<path d="M648.3 378.3C645.5 380.2 637.9 385.9 631.7 390.0C625.5 394.1 617.0 398.7 610.9 403.0C604.8 407.3 598.8 411.8 595.4 415.9C592.0 420.0 591.0 423.9 590.8 427.6C590.6 431.3 591.4 434.8 594.1 438.0C596.8 441.2 601.4 444.5 607.0 447.1C612.6 449.7 620.6 452.5 627.8 453.6C634.9 454.7 643.0 454.7 649.9 453.6C656.8 452.5 661.8 450.4 669.3 447.1C676.8 443.8 686.8 439.2 695.0 434.0C703.2 428.8 714.5 418.8 718.4 415.8" stroke-width="0.7" fill="none" />
<path d="M606.0 410.0C604.5 411.8 598.8 417.7 597.0 421.0C595.2 424.3 594.7 427.2 595.0 430.0C595.3 432.8 596.3 435.6 599.0 438.0C601.7 440.4 605.8 442.6 611.0 444.5C616.2 446.4 623.5 448.7 630.0 449.5C636.5 450.3 643.7 450.3 650.0 449.3C656.3 448.3 660.5 447.1 668.0 443.5C675.5 439.9 686.8 431.9 695.0 428.0C703.2 424.1 713.8 421.3 717.5 420.0" stroke-width="0.6" fill="none" />
<path d="M601.5 421a40.5 22.5 0 1 0 81 0a40.5 22.5 0 1 0 -81 0" stroke-width="0.8" fill="none" />
<path d="M603 420.5a39 21.2 0 1 1 78 0" stroke-width="0.5" fill="none" />
<path d="M604.5 426.5a37.5 17 0 1 1 75 0" stroke-width="0.7" fill="none" />
<path d="M646.0 405.6C648.3 405.8 655.7 406.1 660.0 407.0C664.3 407.9 668.7 409.2 672.0 411.0C675.3 412.8 678.4 416.8 679.7 418.0" stroke-width="0.6" fill="none" />
<path d="M646.0 404.0L647.0 407.0" stroke-width="0.6" fill="none" />
<path d="M678.4 403m-1.5 0a1.5 1.1 0 1 0 3 0a1.5 1.1 0 1 0 -3 0" stroke-width="0.6" fill="none" />
<path d="M642.8 377.7C647.0 379.2 660.5 379.2 668.3 380.6C676.1 382.0 683.1 383.9 689.5 386.2C695.9 388.5 702.0 391.4 706.5 394.7C711.0 398.0 714.4 402.2 716.4 406.0C718.4 409.8 718.3 413.4 718.5 417.4C718.7 421.4 716.7 426.3 717.8 430.1C718.9 433.9 719.7 437.2 724.9 440.0C730.1 442.8 744.8 447.1 749.0 447.1C753.2 447.1 750.4 443.6 750.4 440.0C750.4 436.4 750.4 430.5 749.0 425.8C747.6 421.1 745.4 416.4 741.9 411.7C738.4 407.0 733.4 402.0 727.7 397.5C722.0 393.0 715.5 388.3 707.9 384.8C700.3 381.3 693.2 378.5 682.4 376.3C671.5 374.1 649.4 371.2 642.8 371.4C636.2 371.6 638.5 376.2 642.8 377.7Z" stroke-width="0.8" fill="#fff" />
<path d="M645.0 375.5C648.8 375.8 660.5 376.4 668.0 377.5C675.5 378.6 683.3 379.9 690.0 382.0C696.7 384.1 702.7 386.7 708.0 390.0C713.3 393.3 718.2 398.0 722.0 402.0C725.8 406.0 729.0 409.7 731.0 414.0C733.0 418.3 732.5 423.2 734.0 428.0C735.5 432.8 739.0 440.5 740.0 443.0" stroke-width="0.6" fill="none" />
<path d="M646 373.5L659.8 374.9M662.6 375L679.6 377.3" stroke-width="1.5" fill="none" stroke="#333"/>
<path d="M686.0 380.0m-5.0 0a5.0 1.8 0 1 0 10.0 0a5.0 1.8 0 1 0 -10.0 0" stroke-width="1.3" fill="none" transform="rotate(12 686.0 380.0)"/>
<path d="M699.0 385.0m-5.5 0a5.5 2.2 0 1 0 11.0 0a5.5 2.2 0 1 0 -11.0 0" stroke-width="1.3" fill="none" transform="rotate(22 699.0 385.0)"/>
<path d="M713.5 392.0m-6.0 0a6.0 2.8 0 1 0 12.0 0a6.0 2.8 0 1 0 -12.0 0" stroke-width="1.4" fill="none" transform="rotate(32 713.5 392.0)"/>
<path d="M725.0 400.0m-6.0 0a6.0 3.0 0 1 0 12.0 0a6.0 3.0 0 1 0 -12.0 0" stroke-width="1.2" fill="none" transform="rotate(42 725.0 400.0)"/>
<path d="M730.0 408.5m-8.0 0a8.0 4.0 0 1 0 16.0 0a8.0 4.0 0 1 0 -16.0 0" stroke-width="1.5" fill="none" transform="rotate(35 730.0 408.5)"/>
<path d="M730 408.5m-4.5 0a4.5 2 0 1 0 9 0a4.5 2 0 1 0 -9 0" stroke-width="1.0" fill="none" transform="rotate(35 730 408.5)"/>
<path d="M721 417l13 3M736 421l11 3M721 423l12 3M735 427l12 3M722 429l11 3M736 433l10 3" stroke-width="1.4" fill="none" stroke="#222"/>
<path d="M728 424l5 2M739 430l5 2M724 434l6 2" stroke-width="2.2" fill="none" stroke="#111"/>
<path d="M734.0 418.0L733.0 440.0" stroke-width="0.8" fill="none" />
<path d="M718.4 415.8C714.5 417.6 704.0 422.1 695.0 426.3C686.0 430.5 669.5 438.6 664.4 441.0" stroke-width="0.6" fill="none" />
<path d="M716.6 426.6C712.2 428.5 701.1 433.2 690.0 438.0C678.9 442.8 656.7 452.5 650.0 455.4" stroke-width="0.6" fill="none" />
<path d="M503.5 522.7H614V525.5H503.5Z" stroke-width="0.9" fill="#999" />
<path d="M615.3 536.0C615.4 536.8 614.9 539.5 616.0 541.0C617.1 542.5 619.3 543.9 622.0 545.0C624.7 546.1 628.8 547.0 632.0 547.5C635.2 548.0 638.2 548.2 641.5 548.1C644.8 548.0 648.9 547.6 652.0 547.0C655.1 546.4 657.9 545.7 660.0 544.5C662.1 543.3 664.0 541.3 664.8 540.0C665.6 538.7 664.8 537.1 664.8 536.5" stroke-width="1.2" fill="none" />
<path d="M615.3 536.0C616.4 536.5 617.6 538.2 622.0 539.0C626.4 539.8 635.5 540.4 641.5 540.5C647.5 540.6 654.1 540.2 658.0 539.5C661.9 538.8 663.7 537.0 664.8 536.5" stroke-width="0.7" fill="none" />
<path d="M618.5 540.5m-1.2 0a1.2 0.9 0 1 0 2.4 0a1.2 0.9 0 1 0 -2.4 0" stroke-width="0.7" fill="none" />
<path d="M623.0 543.5L630.0 545.5" stroke-width="1.2" fill="none" />
<path d="M621.2 529.3C621.2 530.2 619.7 533.2 621.2 534.6C622.7 536.0 626.8 536.9 630.0 537.5C633.2 538.1 636.6 538.1 640.3 538.0C644.0 537.9 648.6 537.6 652.0 537.0C655.4 536.4 659.1 535.9 660.5 534.6C661.9 533.3 660.5 530.2 660.5 529.3" stroke-width="0.9" fill="none" />
<path d="M626.0 533.0C628.4 533.3 635.5 535.0 640.3 535.0C645.1 535.0 652.5 533.3 655.0 533.0" stroke-width="0.6" fill="none" />
<path d="M613.9 516a27 16.5 0 1 0 54 0a27 16.5 0 1 0 -54 0" stroke-width="1.3" fill="#fff" />
<path d="M613.9 517a27 16.5 0 0 0 54 0" stroke-width="1.0" fill="none" />
<path d="M614.5 520a26.5 13.5 0 0 0 53 0" stroke-width="0.8" fill="none" />
<path d="M666.0 515.5L660.5 517.9L664.1 521.4L657.5 522.3L658.7 526.4L652.0 525.7L650.5 529.7L644.8 527.5L640.9 530.8L637.0 527.5L631.3 529.7L629.8 525.7L623.1 526.4L624.3 522.3L617.7 521.4L621.3 517.9L615.8 515.5L621.3 513.1L617.7 509.6L624.3 508.7L623.1 504.6L629.8 505.3L631.3 501.3L637.0 503.5L640.9 500.2L644.8 503.5L650.5 501.3L652.0 505.3L658.7 504.6L657.5 508.7L664.1 509.6L660.5 513.1Z" stroke-width="1.0" fill="none" />
<path d="M663.7 518.3L658.3 520.0L660.2 523.4L654.2 523.7L653.7 527.3L648.1 526.2L645.3 529.4L640.8 527.0L636.3 529.4L633.6 526.2L627.9 527.3L627.5 523.6L621.5 523.3L623.4 519.9L618.1 518.2L622.0 515.5L618.1 512.7L623.5 511.0L621.6 507.6L627.6 507.3L628.1 503.7L633.7 504.8L636.5 501.6L641.0 504.0L645.5 501.6L648.2 504.8L653.9 503.7L654.3 507.4L660.3 507.7L658.4 511.1L663.7 512.8L659.8 515.5Z" stroke-width="0.6" fill="none" />
<path d="M657.6 516.5L652.7 518.4L654.0 521.9L648.2 521.8L646.3 525.2L641.4 523.2L636.9 525.4L634.5 522.2L628.7 522.5L629.6 519.0L624.4 517.4L628.3 514.7L625.4 511.7L631.0 510.7L631.3 507.1L636.8 508.2L640.2 505.3L644.0 508.0L649.3 506.7L650.1 510.2L655.8 510.9L653.4 514.1Z" stroke-width="0.9" fill="none" />
<path d="M630.3 516a10.6 6.2 0 1 0 21.2 0a10.6 6.2 0 1 0 -21.2 0" stroke-width="1.0" fill="#fff" />
<path d="M632.9 516a8 4.6 0 1 0 16 0a8 4.6 0 1 0 -16 0" stroke-width="0.8" fill="#fff" />
<path d="M635.4 516.5a5.5 3 0 1 0 11 0a5.5 3 0 1 0 -11 0" stroke-width="0.7" fill="#fff" />
<path d="M659.5 519.0L652.5 517.7" stroke-width="0.7" fill="none" />
<path d="M650.0 526.0L646.6 522.1" stroke-width="0.7" fill="none" />
<path d="M635.2 526.8L637.3 522.6" stroke-width="0.7" fill="none" />
<path d="M623.7 521.0L630.2 519.0" stroke-width="0.7" fill="none" />
<path d="M622.3 512.0L629.3 513.3" stroke-width="0.7" fill="none" />
<path d="M631.8 505.0L635.2 508.9" stroke-width="0.7" fill="none" />
<path d="M646.6 504.2L644.5 508.4" stroke-width="0.7" fill="none" />
<path d="M658.1 510.0L651.6 512.0" stroke-width="0.7" fill="none" />
<path d="M676.4 510.0C676.4 508.2 676.2 501.1 676.3 499.0C676.4 496.9 676.4 497.6 677.0 497.3C677.6 497.0 679.5 497.0 680.2 497.3C680.9 497.6 680.9 496.9 681.0 499.0C681.1 501.1 680.9 508.2 680.9 510.0" stroke-width="1.1" fill="none" />
<path d="M674.3 511.8a4.3 2.6 0 1 0 8.6 0a4.3 2.6 0 1 0 -8.6 0" stroke-width="1.2" fill="#fff" />
<path d="M676.6 500.3l4 -0.6M676.6 503l4 -0.6M676.6 505.7l4 -0.6M676.6 508.4l4 -0.6" stroke-width="0.6" fill="none" />
<path d="M604.0 599.6C604.7 598.0 606.0 592.1 608.0 590.0C610.0 587.9 614.8 587.3 616.2 586.8" stroke-width="1.2" fill="none" />
<path d="M630.6 578.8C632.6 578.5 637.9 577.1 642.8 577.3C647.7 577.5 655.6 578.5 660.0 580.0C664.4 581.5 666.5 583.4 669.3 586.3C672.1 589.2 676.2 593.5 676.7 597.5C677.2 601.5 674.8 606.4 672.0 610.0C669.2 613.6 665.2 616.8 660.0 619.0C654.8 621.2 647.3 623.4 640.6 623.5C633.9 623.6 625.0 621.0 620.0 619.5C615.0 618.0 613.5 616.6 610.9 614.4C608.3 612.1 605.6 608.5 604.5 606.0C603.4 603.5 604.1 600.7 604.0 599.6" stroke-width="1.4" fill="none" />
<path d="M607.0 600.0C607.8 601.8 609.0 608.1 612.0 611.0C615.0 613.9 620.2 616.0 625.0 617.5C629.8 619.0 635.1 620.4 640.6 620.3C646.1 620.2 653.1 618.9 658.0 617.0C662.9 615.1 667.3 612.2 670.0 609.0C672.7 605.8 673.4 599.4 674.1 597.5" stroke-width="0.7" fill="none" />
<path d="M609.0 598.0C610.2 599.5 612.5 604.5 616.0 607.0C619.5 609.5 625.9 611.8 630.0 613.0C634.1 614.2 636.9 614.0 640.6 614.0C644.3 614.0 650.1 613.2 652.0 613.0" stroke-width="0.6" fill="none" />
<path d="M627.9 600.6a12.7 9.5 0 1 0 25.4 0a12.7 9.5 0 1 0 -25.4 0" stroke-width="0.9" fill="#fff" />
<path d="M631.6 602a9 5.5 0 1 0 18 0a9 5.5 0 1 0 -18 0" stroke-width="0.8" fill="#fff" />
<path d="M627.0 587.0L632.0 584.5L638.0 586.0L639.0 589.0L631.0 591.0L627.0 590.0Z" stroke-width="0.8" fill="none" />
<path d="M655.0 588.0C656.2 587.3 660.3 585.7 662.0 586.0C663.7 586.3 665.5 589.0 665.0 590.0C664.5 591.0 660.7 592.0 659.0 592.0C657.3 592.0 655.7 590.7 655.0 590.0C654.3 589.3 653.8 588.7 655.0 588.0Z" stroke-width="0.9" fill="none" />
<path d="M617.0 607.0C617.7 607.2 619.7 607.8 621.0 608.5C622.3 609.2 624.3 610.6 625.0 611.0" stroke-width="1.3" fill="none" />
<path d="M611.0 597.0C611.8 597.2 614.2 597.8 616.0 598.0C617.8 598.2 621.0 598.4 622.0 598.5" stroke-width="0.6" fill="none" />
<path d="M660.0 593.0L668.0 589.0" stroke-width="0.6" fill="none" />
<path d="M652.3 595.3L670.4 586.8L673.5 594.3L671.4 605.9L653.4 618.7" stroke-width="0.8" fill="none" />
<path d="M657 600l4-2M662 597l4-2M667 594l3-1.5M658 604l4-2M664 601l4-2" stroke-width="1.4" fill="none" />
<path d="M652.3 595.3L653.4 618.7" stroke-width="1.3" fill="none" />
<path d="M608.3 572L625.8 561.4L629.2 562.4L630 578L612 590L609.9 599.6Z" stroke-width="0" fill="#fff" stroke="none"/>
<path d="M608.3 572.0C609.6 570.9 613.3 567.4 616.2 565.6C619.1 563.8 623.7 561.9 625.8 561.4C627.9 560.9 628.3 559.7 629.0 562.4C629.7 565.1 629.8 575.2 630.0 577.8" stroke-width="1.4" fill="none" />
<path d="M608.3 572L611.2 570.4L612.3 597.5L609.9 599.6Z" stroke-width="0.8" fill="#777" />
<path d="M630.0 578.0C629.0 578.6 626.2 580.2 624.0 581.5C621.8 582.8 619.0 584.2 617.0 585.5C615.0 586.8 612.8 588.4 612.0 589.0" stroke-width="0.6" fill="none" />
<path d="M481.5 400.5L640.5 309.9" stroke-width="0.8" fill="none" stroke-dasharray="12.9 2.6 1.3 2.3" stroke-dashoffset="17.4"/>
<path d="M481.5 401.5L481.5 617.5" stroke-width="0.8" fill="none" stroke-dasharray="12.9 2.6 1.3 2.3"/>
<path d="M481.5 617.5L318.8 712.0" stroke-width="0.8" fill="none" stroke-dasharray="12.9 2.6 1.3 2.3" stroke-dashoffset="13.5"/>
<path d="M640.5 309.9L640.5 420.0" stroke-width="0.8" fill="none" stroke-dasharray="12.9 2.6 1.3 2.3" stroke-dashoffset="11.4"/>
<path d="M318.5 691.0L318.5 712.0" stroke-width="0.8" fill="none" stroke-dasharray="12.9 2.6 1.3 2.3"/>
<path d="M641.5 491.8L641.5 516.0" stroke-width="0.8" fill="none" stroke-dasharray="12.9 2.6 1.3 2.3"/>
<path d="M641.5 560.0L641.5 605.0" stroke-width="0.8" fill="none" stroke-dasharray="12.9 2.6 1.3 2.3"/>
<path d="M678.5 484.7L678.5 494.2" stroke-width="0.8" fill="none" />
</g>
</svg>
</body></html>
